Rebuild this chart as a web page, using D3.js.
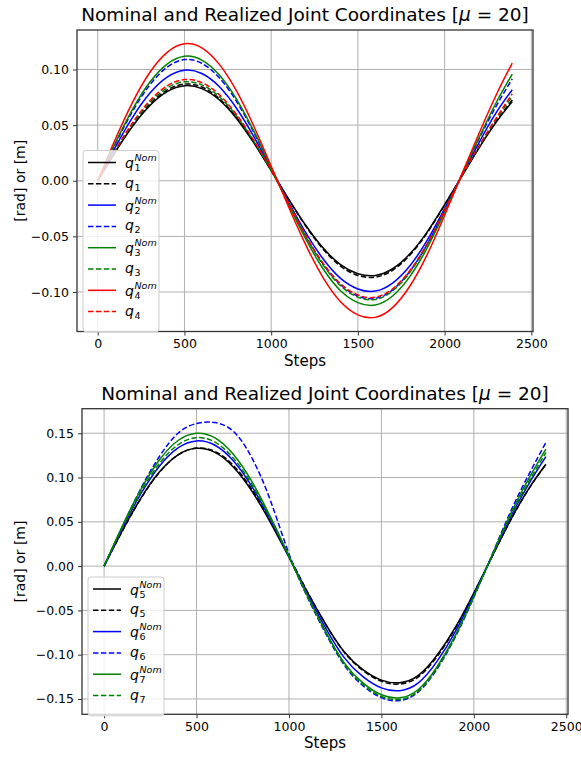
<!DOCTYPE html>
<html>
<head>
<meta charset="utf-8">
<script src="https://cdn.jsdelivr.net/npm/d3@7"></script>
<style>
body { margin: 0; background: #fff; }
text { font-family: "DejaVu Sans", sans-serif; fill: #000; }
</style>
</head>
<body>
<script>
var steps = [0, 100, 200, 300, 400, 500, 600, 700, 800, 900, 1000, 1100, 1200, 1300, 1400, 1500, 1600, 1700, 1800, 1900, 2000, 2100, 2200, 2300, 2390];

var xTicks = [0, 500, 1000, 1500, 2000, 2500];
var yTicksTop = [-0.10, -0.05, 0.00, 0.05, 0.10];
var yTicksBottom = [-0.15, -0.10, -0.05, 0.00, 0.05, 0.10, 0.15];

// top panel, joints 1-4
var q1Nom = [0, 0.0256, 0.0488, 0.0675, 0.0801, 0.0854, 0.0828, 0.0728, 0.0560, 0.0340, 0.0091, -0.0162, -0.0402, -0.0605, -0.0754, -0.0836, -0.0852, -0.0791, -0.0657, -0.0459, -0.0215, 0.0043, 0.0299, 0.0532, 0.0712];
var q1 = [0, 0.0260, 0.0497, 0.0687, 0.0815, 0.0869, 0.0843, 0.0740, 0.0570, 0.0346, 0.0092, -0.0165, -0.0409, -0.0616, -0.0767, -0.0851, -0.0867, -0.0805, -0.0668, -0.0467, -0.0219, 0.0044, 0.0305, 0.0541, 0.0727];
var q2Nom = [0, 0.0298, 0.0568, 0.0786, 0.0932, 0.0994, 0.0964, 0.0847, 0.0652, 0.0396, 0.0105, -0.0189, -0.0468, -0.0704, -0.0878, -0.0973, -0.0992, -0.0920, -0.0764, -0.0534, -0.0251, 0.0050, 0.0348, 0.0619, 0.0818];
var q2 = [0, 0.0326, 0.0622, 0.0861, 0.1021, 0.1089, 0.1056, 0.0927, 0.0714, 0.0434, 0.0116, -0.0201, -0.0498, -0.0750, -0.0935, -0.1037, -0.1057, -0.0981, -0.0814, -0.0569, -0.0267, 0.0055, 0.0382, 0.0678, 0.0916];
var q3Nom = [0, 0.0335, 0.0640, 0.0885, 0.1049, 0.1119, 0.1085, 0.0953, 0.0734, 0.0446, 0.0119, -0.0213, -0.0526, -0.0793, -0.0988, -0.1095, -0.1117, -0.1036, -0.0860, -0.0601, -0.0282, 0.0056, 0.0392, 0.0710, 0.0958];
var q3 = [0, 0.0266, 0.0508, 0.0703, 0.0834, 0.0889, 0.0862, 0.0757, 0.0583, 0.0354, 0.0094, -0.0203, -0.0503, -0.0758, -0.0944, -0.1046, -0.1067, -0.0990, -0.0822, -0.0575, -0.0270, 0.0045, 0.0312, 0.0560, 0.0757];
var q4Nom = [0, 0.0368, 0.0703, 0.0973, 0.1154, 0.1231, 0.1194, 0.1048, 0.0807, 0.0490, 0.0131, -0.0234, -0.0579, -0.0872, -0.1087, -0.1205, -0.1228, -0.1140, -0.0946, -0.0662, -0.0310, 0.0062, 0.0431, 0.0780, 0.1057];
var q4 = [0, 0.0272, 0.0520, 0.0719, 0.0853, 0.0909, 0.0882, 0.0774, 0.0596, 0.0362, 0.0096, -0.0200, -0.0494, -0.0743, -0.0926, -0.1027, -0.1047, -0.0971, -0.0806, -0.0564, -0.0265, 0.0046, 0.0319, 0.0570, 0.0782];

// bottom panel, joints 5-7
var q5Nom = [0, 0.0406, 0.0771, 0.1064, 0.1257, 0.1330, 0.1283, 0.1117, 0.0845, 0.0492, 0.0100, -0.0297, -0.0660, -0.0970, -0.1168, -0.1287, -0.1316, -0.1234, -0.1010, -0.0693, -0.0304, 0.0113, 0.0525, 0.0884, 0.1150];
var q5 = [0, 0.0400, 0.0765, 0.1060, 0.1255, 0.1332, 0.1295, 0.1135, 0.0865, 0.0510, 0.0115, -0.0290, -0.0662, -0.0975, -0.1178, -0.1300, -0.1331, -0.1250, -0.1025, -0.0702, -0.0308, 0.0112, 0.0522, 0.0880, 0.1148];
var q6Nom = [0, 0.0431, 0.0820, 0.1130, 0.1335, 0.1413, 0.1364, 0.1187, 0.0897, 0.0523, 0.0106, -0.0317, -0.0705, -0.1036, -0.1248, -0.1375, -0.1406, -0.1318, -0.1079, -0.0740, -0.0324, 0.0120, 0.0557, 0.0938, 0.1236];
var q6 = [0, 0.0450, 0.0880, 0.1240, 0.1500, 0.1610, 0.1620, 0.1520, 0.1220, 0.0740, 0.0140, -0.0352, -0.0765, -0.1120, -0.1350, -0.1485, -0.1518, -0.1420, -0.1165, -0.0800, -0.0352, 0.0135, 0.0620, 0.1045, 0.1394];
var q7Nom = [0, 0.0458, 0.0870, 0.1200, 0.1418, 0.1500, 0.1448, 0.1260, 0.0953, 0.0555, 0.0113, -0.0335, -0.0745, -0.1095, -0.1319, -0.1453, -0.1486, -0.1393, -0.1140, -0.0782, -0.0343, 0.0128, 0.0593, 0.0998, 0.1320];
var q7 = [0, 0.0442, 0.0841, 0.1160, 0.1370, 0.1450, 0.1399, 0.1218, 0.0921, 0.0537, 0.0109, -0.0340, -0.0755, -0.1110, -0.1336, -0.1472, -0.1505, -0.1412, -0.1155, -0.0793, -0.0347, 0.0123, 0.0573, 0.0964, 0.1280];

var topSeries = [
    {joint: "1", nom: true, color: "#000000", values: q1Nom},
    {joint: "1", nom: false, color: "#000000", values: q1},
    {joint: "2", nom: true, color: "#0000ff", values: q2Nom},
    {joint: "2", nom: false, color: "#0000ff", values: q2},
    {joint: "3", nom: true, color: "#008000", values: q3Nom},
    {joint: "3", nom: false, color: "#008000", values: q3},
    {joint: "4", nom: true, color: "#ff0000", values: q4Nom},
    {joint: "4", nom: false, color: "#ff0000", values: q4}
];
var bottomSeries = [
    {joint: "5", nom: true, color: "#000000", values: q5Nom},
    {joint: "5", nom: false, color: "#000000", values: q5},
    {joint: "6", nom: true, color: "#0000ff", values: q6Nom},
    {joint: "6", nom: false, color: "#0000ff", values: q6},
    {joint: "7", nom: true, color: "#008000", values: q7Nom},
    {joint: "7", nom: false, color: "#008000", values: q7}
];

var svg = d3.select("body").append("svg")
    .attr("width", 581)
    .attr("height", 760);

function fmt(v) {
    return d3.format(".2f")(v).replace("-", "\u2212");
}

function legendLabel(g, x, y, d) {
    // mathtext style label: q_i or q_i^Nom
    var base = d.nom ? y + 5.5 : y + 4;
    g.append("text").attr("x", x).attr("y", base)
        .style("font-style", "italic").style("font-size", "14px").text("q");
    g.append("text").attr("x", x + 9.5).attr("y", base + 3)
        .style("font-size", "9.5px").text(d.joint);
    if (d.nom) {
        g.append("text").attr("x", x + 9.5).attr("y", y - 1.5)
            .style("font-style", "italic").style("font-size", "9.5px").text("Nom");
    }
}

function drawPanel(p) {
    var g = svg.append("g");

    var xScale = d3.scaleLinear().domain([-119.5, 2509.5]).range([p.left, p.right]);
    var yScale = d3.scaleLinear().domain(p.yDomain).range([p.bottom, p.top]);

    // grid
    g.selectAll(".gx").data(xTicks).enter().append("line")
        .attr("x1", function (d) { return xScale(d); })
        .attr("x2", function (d) { return xScale(d); })
        .attr("y1", p.top).attr("y2", p.bottom)
        .attr("stroke", "#b0b0b0").attr("stroke-width", 1);
    g.selectAll(".gy").data(p.yTicks).enter().append("line")
        .attr("y1", function (d) { return yScale(d); })
        .attr("y2", function (d) { return yScale(d); })
        .attr("x1", p.left).attr("x2", p.right)
        .attr("stroke", "#b0b0b0").attr("stroke-width", 1);

    // lines
    var line = d3.line()
        .x(function (d, i) { return xScale(steps[i]); })
        .y(function (d) { return yScale(d); })
        .curve(d3.curveNatural);

    g.selectAll(".series").data(p.series).enter().append("path")
        .attr("d", function (d) { return line(d.values); })
        .attr("fill", "none")
        .attr("stroke", function (d) { return d.color; })
        .attr("stroke-width", 1.5)
        .attr("stroke-dasharray", function (d) { return d.nom ? null : "5.5,2.4"; });

    // axes
    var xAxis = d3.axisBottom(xScale).tickValues(xTicks).tickSize(4).tickPadding(4).tickFormat(d3.format("d"));
    var yAxis = d3.axisLeft(yScale).tickValues(p.yTicks).tickSize(4).tickPadding(4).tickFormat(fmt);

    var gx = g.append("g")
        .attr("transform", "translate(0," + p.bottom + ")")
        .call(xAxis);
    var gy = g.append("g")
        .attr("transform", "translate(" + p.left + ",0)")
        .call(yAxis);
    [gx, gy].forEach(function (a) {
        a.select(".domain").remove();
        a.selectAll("line").attr("stroke", "#333");
        a.selectAll("text").style("font-size", "12.5px").style("font-family", "DejaVu Sans").attr("fill", "#000");
    });

    // spines
    g.append("rect")
        .attr("x", p.left).attr("y", p.top)
        .attr("width", p.right - p.left).attr("height", p.bottom - p.top)
        .attr("fill", "none").attr("stroke", "#333").attr("stroke-width", 1.3);

    // title
    var t = g.append("text")
        .attr("x", (p.left + p.right) / 2).attr("y", p.top - 9)
        .attr("text-anchor", "middle").style("font-size", "18.5px");
    t.append("tspan").text("Nominal and Realized Joint Coordinates [");
    t.append("tspan").style("font-style", "italic").text("\u03bc");
    t.append("tspan").text(" = 20]");

    // axis labels
    g.append("text")
        .attr("x", (p.left + p.right) / 2).attr("y", p.bottom + 34)
        .attr("text-anchor", "middle").style("font-size", "15px").text("Steps");
    g.append("text")
        .attr("transform", "rotate(-90)")
        .attr("x", -(p.top + p.bottom) / 2).attr("y", 25)
        .attr("text-anchor", "middle").style("font-size", "14px").text("[rad] or [m]");

    // legend
    var lg = g.append("g");
    var rowH = 21.3;
    lg.append("rect")
        .attr("x", p.left + 6).attr("y", p.legendTop)
        .attr("width", 76).attr("height", p.series.length * rowH + 11)
        .attr("rx", 3)
        .attr("fill", "white").attr("fill-opacity", 0.8)
        .attr("stroke", "#cccccc").attr("stroke-width", 1);
    p.series.forEach(function (d, i) {
        var y = p.legendTop + 12 + i * rowH;
        lg.append("line")
            .attr("x1", p.left + 11).attr("x2", p.left + 39)
            .attr("y1", y).attr("y2", y)
            .attr("stroke", d.color).attr("stroke-width", 1.5)
            .attr("stroke-dasharray", d.nom ? null : "5.5,2.4");
        legendLabel(lg, p.left + 48, y, d);
    });
}

drawPanel({
    left: 77, right: 533, top: 30, bottom: 331.5,
    yDomain: [-0.1355, 0.1355], yTicks: yTicksTop,
    series: topSeries, legendTop: 150.5
});

drawPanel({
    left: 82, right: 568, top: 408.7, bottom: 714.3,
    yDomain: [-0.1673, 0.1777], yTicks: yTicksBottom,
    series: bottomSeries, legendTop: 577
});
</script>
</body>
</html>
